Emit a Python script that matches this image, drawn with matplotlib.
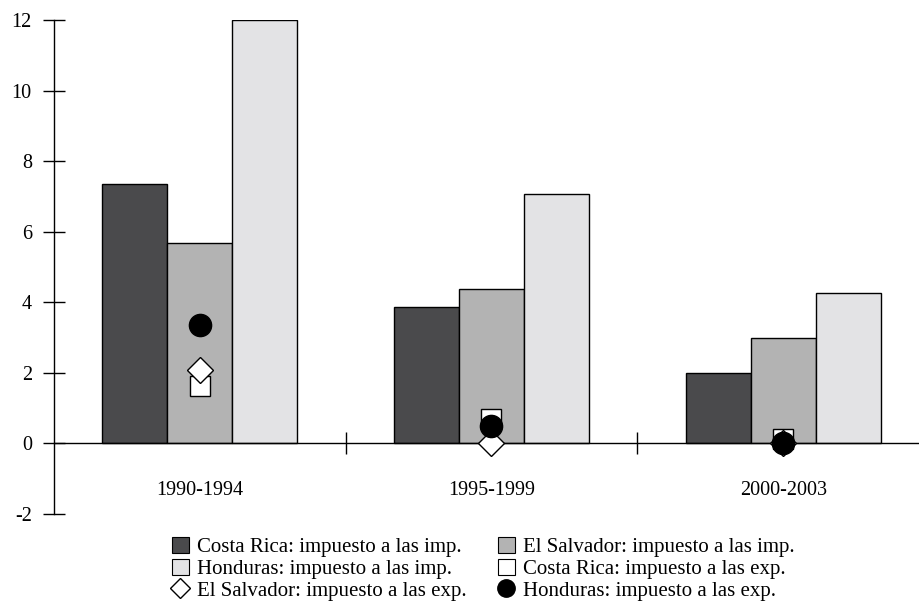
import numpy as np
import matplotlib
matplotlib.use('Agg')
from matplotlib import pyplot as plt
from matplotlib.patches import Patch
from matplotlib.lines import Line2D

plt.rcParams['font.family'] = ['Liberation Serif', 'DejaVu Serif']
plt.rcParams['font.size'] = 14.5

periods = ['1990-1994', '1995-1999', '2000-2003']
cr_imp = [7.35, 3.86, 1.99]
sv_imp = [5.67, 4.37, 3.0]
hn_imp = [12.0, 7.06, 4.26]
cr_exp = [1.62, 0.70, 0.13]
sv_exp = [2.07, 0.0, 0.0]
hn_exp = [3.35, 0.50, 0.0]

fig = plt.figure(figsize=(9.2, 6.06), dpi=100)
ax = fig.add_axes([54 / 920, 1 - 514 / 606, 875 / 920, 494 / 606])

x = np.arange(len(periods))
w = 0.223
c_dark, c_mid, c_light = '#4a4a4c', '#b3b3b3', '#e3e3e5'
ax.bar(x - w, cr_imp, w, color=c_dark, edgecolor='black', linewidth=1.0, zorder=2)
ax.bar(x, sv_imp, w, color=c_mid, edgecolor='black', linewidth=1.0, zorder=2)
ax.bar(x + w, hn_imp, w, color=c_light, edgecolor='black', linewidth=1.0, zorder=2)

ax.plot(x, cr_exp, 's', ms=15, mfc='white', mec='black', mew=1.0, ls='none', zorder=4)
ax.plot(x, sv_exp, 'D', ms=13.5, mfc='white', mec='black', mew=1.0, ls='none', zorder=5)
ax.plot(x, hn_exp, 'o', ms=16, mfc='black', mec='black', ls='none', zorder=6)

ax.set_xlim(-0.5, 2.5)
ax.set_ylim(-2, 12)

for s in ['top', 'right']:
    ax.spines[s].set_visible(False)
ax.spines['bottom'].set_position(('data', 0))
ax.spines['left'].set_linewidth(1.0)
ax.spines['bottom'].set_linewidth(1.0)
ax.spines['bottom'].set_zorder(3)

ax.set_yticks(np.arange(-2, 13, 2))
ax.set_yticklabels([str(v) for v in range(-2, 13, 2)])
ax.tick_params(axis='y', direction='inout', length=16, width=1.0, pad=8)

ax.set_xticks([0.5, 1.5])
ax.set_xticklabels([])
ax.tick_params(axis='x', which='major', direction='inout', length=16, width=1.0)
ax.set_xticks(x, minor=True)
ax.set_xticklabels(periods, minor=True)
ax.tick_params(axis='x', which='minor', length=0, pad=27)

handles = [
    Patch(facecolor=c_dark, edgecolor='black', linewidth=0.8),
    Patch(facecolor=c_light, edgecolor='black', linewidth=0.8),
    Line2D([], [], marker='D', ms=10, mfc='white', mec='black', mew=1.0, ls='none'),
    Patch(facecolor=c_mid, edgecolor='black', linewidth=0.8),
    Patch(facecolor='white', edgecolor='black', linewidth=0.8),
    Line2D([], [], marker='o', ms=12.5, mfc='black', mec='black', ls='none'),
]
labels = [
    'Costa Rica: impuesto a las imp.',
    'Honduras: impuesto a las imp.',
    'El Salvador: impuesto a las exp.',
    'El Salvador: impuesto a las imp.',
    'Costa Rica: impuesto a las exp.',
    'Honduras: impuesto a las exp.',
]
fig.legend(handles, labels, ncol=2, frameon=False, loc='upper left',
           bbox_to_anchor=(172 / 920, 1 - 537 / 606), fontsize=15,
           handlelength=0.8, handleheight=0.8, handletextpad=0.4,
           columnspacing=1.5, labelspacing=0.08, borderaxespad=0, borderpad=0)

fig.savefig('out.png', dpi=100)
